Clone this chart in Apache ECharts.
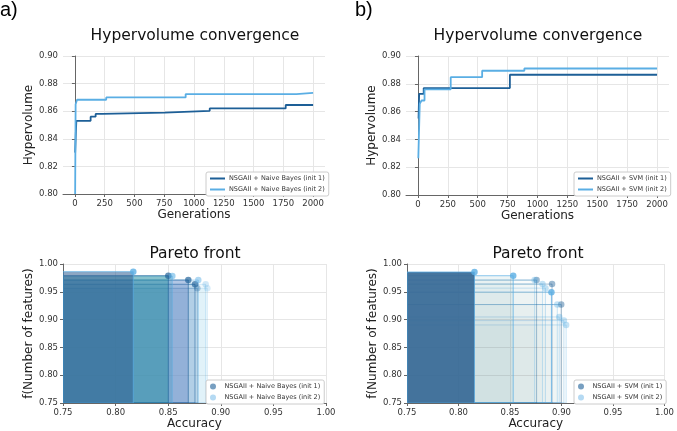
<!DOCTYPE html>
<html><head><meta charset="utf-8">
<script src="https://cdn.jsdelivr.net/npm/echarts@6/dist/echarts.min.js"></script>
<style>html,body{margin:0;padding:0;background:#fff}#c{width:677px;height:431px}</style>
</head><body><div id="c"></div>
<script>
// ---------------- data ----------------
const genTicks = [0, 250, 500, 750, 1000, 1250, 1500, 1750, 2000];

const hvNbInit1Gen = [2, 8, 12, 132, 174, 230, 753, 1132, 1770, 2000];
const hvNbInit1Val = [0.830, 0.845, 0.853, 0.856, 0.858, 0.859, 0.8603, 0.862, 0.8645, 0.8645];
const hvNbInit2Gen = [2, 6, 18, 263, 930, 1860, 2000];
const hvNbInit2Val = [0.800, 0.865, 0.8683, 0.870, 0.8724, 0.8733, 0.8733];

const hvSvmInit1Gen = [5, 10, 48, 769, 2000];
const hvSvmInit1Val = [0.855, 0.8728, 0.8769, 0.8865, 0.8865];
const hvSvmInit2Gen = [3, 15, 30, 55, 274, 537, 890, 2000];
const hvSvmInit2Val = [0.8265, 0.8656, 0.868, 0.876, 0.8848, 0.8894, 0.891, 0.891];

const pfNbInit1Acc = [0.8501, 0.8691, 0.8755, 0.8777];
const pfNbInit1F   = [0.9790, 0.9712, 0.9635, 0.9563];
const pfNbInit2Acc = [0.8168, 0.8539, 0.8786, 0.8856, 0.8872];
const pfNbInit2F   = [0.9862, 0.9784, 0.9712, 0.9635, 0.9563];

const pfSvmInit1Acc = [0.8155, 0.8758, 0.8908, 0.8997];
const pfSvmInit1F   = [0.9855, 0.9711, 0.9639, 0.9271];
const pfSvmInit2Acc = [0.8155, 0.8531, 0.8739, 0.8815, 0.8844, 0.8902, 0.8959, 0.8978, 0.9023, 0.9045];
const pfSvmInit2F   = [0.9855, 0.9789, 0.9711, 0.9639, 0.9566, 0.9494, 0.9271, 0.9048, 0.8982, 0.8904];

const nameNb1 = 'NSGAII + Naive Bayes (init 1)';
const nameNb2 = 'NSGAII + Naive Bayes (init 2)';
const nameSvm1 = 'NSGAII + SVM (init 1)';
const nameSvm2 = 'NSGAII + SVM (init 2)';

// ---------------- styles ----------------
const C1 = '#1d5f97';
const C2 = '#5aaee4';
const FONT = 'DejaVu Sans';

// marker opacities & rect styles (per point, parallel to the data arrays)
const nbInit1Alpha = [0.85, 0.85, 0.8, 0.4];
const nbInit2Alpha = [1.0, 0.7, 0.6, 0.35, 0.3];
const nbInit1Fill = ['rgba(30,140,150,0.35)', 'rgba(90,120,190,0.35)', 'rgba(60,110,170,0.12)', 'rgba(150,170,200,0.15)'];
const nbInit2Fill = ['rgba(50,95,145,0.55)', 'rgba(60,150,190,0.3)', 'rgba(120,190,230,0.2)', 'rgba(150,205,235,0.15)', 'rgba(150,205,235,0.15)'];

const PALE = 'rgba(115,170,185,0.022)';
const svmInit1Alpha = [0.0, 0.55, 0.55, 0.55];
const svmInit2Alpha = [1.0, 1.0, 0.45, 0.45, 0.45, 1.0, 0.45, 0.45, 0.45, 0.45];
const svmInit1Fill = ['rgba(55,105,150,0.92)', PALE, PALE, PALE];
const svmInit2Fill = ['rgba(70,120,160,0.1)', 'rgba(115,170,185,0.12)', PALE, PALE, PALE, PALE, PALE, PALE, PALE, PALE];

function rgba(hex, a) {
  const n = parseInt(hex.slice(1), 16);
  return 'rgba(' + (n >> 16) + ',' + ((n >> 8) & 255) + ',' + (n & 255) + ',' + a + ')';
}

const grids = [
  {left: 63, top: 56, width: 262, height: 138},
  {left: 406, top: 56, width: 263, height: 139},
  {left: 63, top: 264, width: 263, height: 139},
  {left: 407, top: 264, width: 261, height: 139}
];

const axisLineStyle = {show: true, lineStyle: {color: '#666', width: 1}};
const tickStyle = {show: true, inside: false, length: 3, lineStyle: {color: '#666'}};
const labelStyle = {fontSize: 8.5, color: '#333', fontFamily: FONT, margin: 5};
const splitStyle = {show: true, lineStyle: {color: '#e6e6e6', width: 1}};
const nameStyle = {fontSize: 12, color: '#222', fontFamily: FONT};

function genAxis(gi) {
  return {
    type: 'value', gridIndex: gi, min: -100, max: 2100,
    name: 'Generations', nameLocation: 'middle', nameGap: 13, nameTextStyle: nameStyle,
    axisLine: axisLineStyle,
    axisTick: Object.assign({}, tickStyle, {customValues: genTicks}),
    axisLabel: Object.assign({}, labelStyle, {customValues: genTicks, formatter: v => String(v)}),
    splitLine: Object.assign({}, splitStyle, {customValues: genTicks})
  };
}
function hvAxis(gi, gap) {
  return {
    type: 'value', gridIndex: gi, min: 0.8, max: 0.9, interval: 0.02,
    name: 'Hypervolume', nameLocation: 'middle', nameGap: gap, nameTextStyle: nameStyle,
    axisLine: axisLineStyle, axisTick: tickStyle,
    axisLabel: Object.assign({}, labelStyle, {formatter: v => v.toFixed(2)}),
    splitLine: splitStyle
  };
}
function accAxis(gi) {
  return {
    type: 'value', gridIndex: gi, min: 0.75, max: 1.0, interval: 0.05,
    name: 'Accuracy', nameLocation: 'middle', nameGap: 13, nameTextStyle: nameStyle,
    axisLine: axisLineStyle, axisTick: tickStyle,
    axisLabel: Object.assign({}, labelStyle, {formatter: v => v.toFixed(2)}),
    splitLine: splitStyle
  };
}
function fAxis(gi, gap) {
  return {
    type: 'value', gridIndex: gi, min: 0.75, max: 1.0, interval: 0.05,
    name: 'f(Number of features)', nameLocation: 'middle', nameGap: gap, nameTextStyle: nameStyle,
    axisLine: axisLineStyle, axisTick: tickStyle,
    axisLabel: Object.assign({}, labelStyle, {formatter: v => v.toFixed(2)}),
    splitLine: splitStyle
  };
}

function lineSeries(name, gi, gens, vals, color) {
  return {
    type: 'line', name: name, xAxisIndex: gi, yAxisIndex: gi,
    data: gens.map((g, i) => [g, vals[i]]),
    step: 'end', symbol: 'none', lineStyle: {color: color, width: 1.8}, itemStyle: {color: color},
    z: 3, animation: false
  };
}

function scatterSeries(name, gi, acc, f, alphas, color) {
  return {
    type: 'scatter', name: name, xAxisIndex: gi, yAxisIndex: gi,
    symbolSize: 6.5, z: 5, animation: false,
    itemStyle: {color: color},
    data: acc.map((a, i) => ({value: [a, f[i]], itemStyle: {color: rgba(color, alphas[i])}}))
  };
}

function rectSeries(gi, sets) {
  const rects = [];
  sets.forEach(s => s.acc.forEach((a, i) => rects.push({acc: a, f: s.f[i], fill: s.fill[i], stroke: rgba(s.color, Math.max(0.12, s.alpha[i] * 0.7))})));
  rects.sort((p, q) => q.acc - p.acc);
  return {
    type: 'custom', xAxisIndex: gi, yAxisIndex: gi, z: 2, silent: true, animation: false, clip: true,
    data: rects.map(r => [r.acc, r.f]),
    renderItem: (params, api) => {
      const r = rects[params.dataIndex];
      const p0 = api.coord([0.75, 0.75]);
      const p1 = api.coord([api.value(0), api.value(1)]);
      return {
        type: 'rect',
        shape: {x: p0[0], y: p1[1], width: p1[0] - p0[0], height: p0[1] - p1[1]},
        style: {fill: r.fill, stroke: r.stroke, lineWidth: 1}
      };
    }
  };
}

function legendBox(left, top, items, iw, ih) {
  return {
    orient: 'vertical', left: left, top: top, padding: [3, 4, 3, 4], itemGap: 4,
    itemWidth: iw, itemHeight: ih,
    backgroundColor: '#fff', borderColor: '#cccccc', borderWidth: 1, borderRadius: 2,
    textStyle: {fontSize: 6.5, color: '#333', fontFamily: FONT, padding: [0, 0, 0, -1]},
    selectedMode: false,
    data: items
  };
}

const option = {
  backgroundColor: '#fff',
  animation: false,
  title: [
    {text: 'a)', left: 0, top: 0, padding: 0, textStyle: {fontSize: 20, fontWeight: 'normal', fontFamily: 'Liberation Sans', color: '#000'}},
    {text: 'b)', left: 355, top: 0, padding: 0, textStyle: {fontSize: 20, fontWeight: 'normal', fontFamily: 'Liberation Sans', color: '#000'}},
    {text: 'Hypervolume convergence', left: 195, top: 28, padding: 0, textAlign: 'center', textStyle: {fontSize: 15.5, fontWeight: 'normal', fontFamily: FONT, color: '#111'}},
    {text: 'Hypervolume convergence', left: 538, top: 28, padding: 0, textAlign: 'center', textStyle: {fontSize: 15.5, fontWeight: 'normal', fontFamily: FONT, color: '#111'}},
    {text: 'Pareto front', left: 195, top: 246, padding: 0, textAlign: 'center', textStyle: {fontSize: 15.5, fontWeight: 'normal', fontFamily: FONT, color: '#111'}},
    {text: 'Pareto front', left: 538, top: 246, padding: 0, textAlign: 'center', textStyle: {fontSize: 15.5, fontWeight: 'normal', fontFamily: FONT, color: '#111'}}
  ],
  grid: grids,
  xAxis: [genAxis(0), genAxis(1), accAxis(2), accAxis(3)],
  yAxis: [hvAxis(0, 24), hvAxis(1, 24), fAxis(2, 20), fAxis(3, 24)],
  legend: [
    legendBox(206, 172, [
      {name: nameNb1, icon: 'rect', itemStyle: {color: C1}},
      {name: nameNb2, icon: 'rect', itemStyle: {color: C2}}
    ], 15, 2),
    legendBox(574, 172, [
      {name: nameSvm1, icon: 'rect', itemStyle: {color: C1}},
      {name: nameSvm2, icon: 'rect', itemStyle: {color: C2}}
    ], 15, 2),
    legendBox(206, 380, [
      {name: nameNb1, icon: 'circle', itemStyle: {color: rgba(C1, 0.6)}},
      {name: nameNb2, icon: 'circle', itemStyle: {color: rgba(C2, 0.45)}}
    ], 15, 6),
    legendBox(574, 380, [
      {name: nameSvm1, icon: 'circle', itemStyle: {color: rgba(C1, 0.6)}},
      {name: nameSvm2, icon: 'circle', itemStyle: {color: rgba(C2, 0.45)}}
    ], 15, 6)
  ],
  series: [
    lineSeries(nameNb1, 0, hvNbInit1Gen, hvNbInit1Val, C1),
    lineSeries(nameNb2, 0, hvNbInit2Gen, hvNbInit2Val, C2),
    lineSeries(nameSvm1, 1, hvSvmInit1Gen, hvSvmInit1Val, C1),
    lineSeries(nameSvm2, 1, hvSvmInit2Gen, hvSvmInit2Val, C2),
    rectSeries(2, [
      {acc: pfNbInit1Acc, f: pfNbInit1F, fill: nbInit1Fill, alpha: nbInit1Alpha, color: C1},
      {acc: pfNbInit2Acc, f: pfNbInit2F, fill: nbInit2Fill, alpha: nbInit2Alpha, color: C2}
    ]),
    rectSeries(3, [
      {acc: pfSvmInit1Acc, f: pfSvmInit1F, fill: svmInit1Fill, alpha: svmInit1Alpha, color: C1},
      {acc: pfSvmInit2Acc, f: pfSvmInit2F, fill: svmInit2Fill, alpha: svmInit2Alpha, color: C2}
    ]),
    scatterSeries(nameNb1, 2, pfNbInit1Acc, pfNbInit1F, nbInit1Alpha, C1),
    scatterSeries(nameNb2, 2, pfNbInit2Acc, pfNbInit2F, nbInit2Alpha, C2),
    scatterSeries(nameSvm1, 3, pfSvmInit1Acc, pfSvmInit1F, svmInit1Alpha, C1),
    scatterSeries(nameSvm2, 3, pfSvmInit2Acc, pfSvmInit2F, svmInit2Alpha, C2)
  ]
};

const chart = echarts.init(document.getElementById('c'), null, {renderer: 'canvas'});
chart.setOption(option);
</script>
</body></html>
